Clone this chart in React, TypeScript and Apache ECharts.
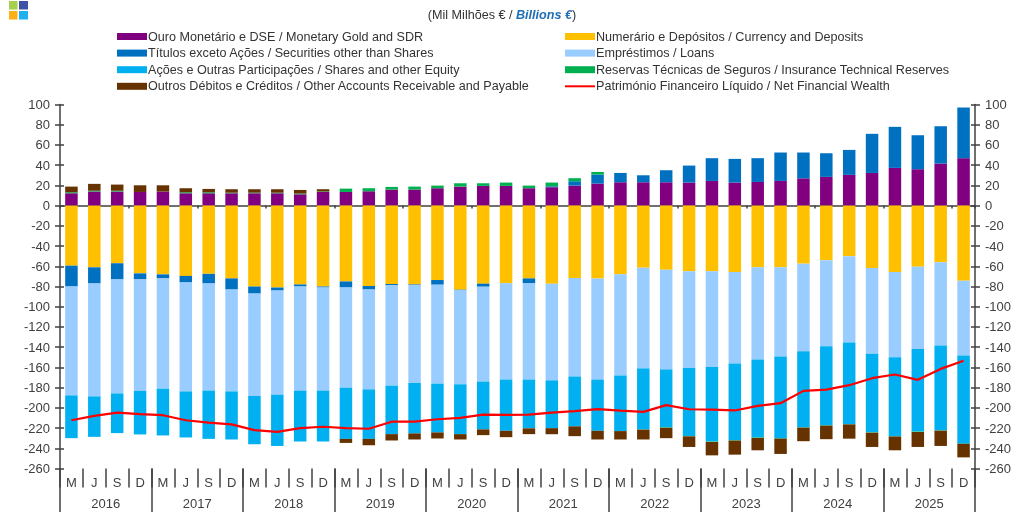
import React, { useEffect, useRef } from "react";
import * as echarts from "echarts";

const quarters = ["M", "J", "S", "D"];
const years = ["2016", "2017", "2018", "2019", "2020", "2021", "2022", "2023", "2024", "2025"];
const categories = years.flatMap((y) => quarters.map((q) => `${q} ${y}`));
const monthLabels = years.flatMap(() => quarters);

const gold = [12.2, 13.9, 13.9, 13.5, 13.9, 12.2, 12.2, 12.2, 12.2, 12.2, 11.2, 13.5, 13.5, 14.2, 15.8, 15.8, 17.2, 18.8, 19.5, 19.5, 17.2, 18.2, 19.8, 21.8, 23.1, 23.1, 23.1, 22.8, 24.4, 22.8, 23.4, 24.4, 27, 28.4, 30.4, 32.3, 37.3, 36, 41.6, 46.9];
const currency = [-59.4, -61, -57, -67, -68, -69.5, -67.5, -72, -80, -81, -78, -80, -75, -79.5, -77.5, -78, -73.6, -83.2, -77.2, -76.6, -72, -77.2, -71.6, -72.2, -68, -61.4, -63.4, -65, -65, -65.7, -61, -61, -57.4, -54, -50, -61.7, -65.7, -60.4, -56, -74.3];
const securities = [-20.6, -16, -16, -6, -4, -6.5, -9.5, -11, -7, -3, -2, -1, -6, -3.5, -1.4, -0.5, -4.6, -0.3, -3, -0.2, -4.6, 0.9, 4.3, 8.9, 9.2, 6.9, 11.9, 16.8, 22.5, 23.4, 23.5, 28.1, 25.5, 23.4, 24.7, 38.7, 40.6, 33.6, 36.9, 50.1];
const loans = [-107.7, -111.7, -112.7, -110.3, -109, -107.7, -106, -100.7, -101.3, -103, -103, -102, -99, -98.7, -99.1, -96.8, -97.8, -93.2, -93.8, -95.2, -95.4, -95.6, -97.4, -99.8, -100, -99.6, -98.6, -95.5, -94.5, -90.5, -91.2, -88.2, -86.6, -85, -85.4, -84.9, -84.3, -81.3, -82.4, -74];
const shares = [-42.3, -40, -39.3, -43, -46.3, -45.6, -47.7, -47.6, -47.7, -50.7, -50.3, -50.3, -50.7, -49, -48, -50, -48.3, -49.3, -47.3, -50.7, -48.3, -47.3, -49.3, -50.7, -55, -60.3, -57.3, -67.3, -73.9, -75.8, -77.2, -80.8, -75.2, -78.2, -80.6, -77.6, -78, -81.8, -83.8, -87.1];
const insurance = [1, 0.8, 0.8, 0, 0, 1, 1, 0.6, 0.6, 0.6, 0.7, 0.5, 3.3, 3, 2.7, 3, 2.6, 3.3, 2.6, 3.3, 2.6, 3.7, 3, 2.6, 0, -0.3, -0.4, -0.4, -0.4, -0.4, -0.4, -0.4, -0.4, -0.4, -0.4, -0.4, -0.4, -0.4, -0.4, -0.2];
const others = [5.6, 6.8, 6.1, 6.6, 6.2, 4, 3.3, 3.4, 3.4, 3.4, 3.6, 2.2, -4, -6.3, -6.3, -6, -6, -5.3, -5.7, -6.3, -5.7, -6, -9.7, -8.6, -8.3, -9.7, -10.3, -10.5, -13.2, -13.9, -12.2, -15.2, -13.4, -13.4, -14.1, -14.1, -13.6, -14.8, -15.1, -13.4];
const netWealth = [-212.3, -208, -204.7, -206.3, -207.3, -212.3, -214.7, -216.3, -222, -223.7, -220, -218.7, -220, -220.7, -213.7, -213.7, -211.3, -210, -206.7, -207, -206.7, -204.7, -203.3, -201.3, -202.7, -204, -197.3, -201.4, -201.7, -202.6, -198, -195.4, -183.2, -182, -177.6, -170.7, -167, -172.3, -161.5, -153.5];

const names = {
  gold: "Ouro Monetário e DSE / Monetary Gold and SDR",
  currency: "Numerário e Depósitos / Currency and Deposits",
  securities: "Títulos exceto Ações / Securities other than Shares",
  loans: "Empréstimos / Loans",
  shares: "Ações e Outras Participações / Shares and other Equity",
  insurance: "Reservas Técnicas de Seguros / Insurance Technical Reserves",
  others: "Outros Débitos e Créditos / Other Accounts Receivable and Payable",
  net: "Património Financeiro Líquido / Net Financial Wealth",
};

const barSeries: [string, number[], string][] = [
  [names.gold, gold, "#800080"],
  [names.currency, currency, "#ffc000"],
  [names.securities, securities, "#0070c0"],
  [names.loans, loans, "#99ccff"],
  [names.shares, shares, "#00b0f0"],
  [names.insurance, insurance, "#00b050"],
  [names.others, others, "#663300"],
];

const FONT = "'Liberation Sans', Arial, sans-serif";
const INK = "#404040";

export default function App() {
  const ref = useRef<HTMLDivElement>(null);
  useEffect(() => {
    document.body.style.margin = "0";
    const chart = echarts.init(ref.current!, undefined, { renderer: "svg" });
    const legendBase = {
      orient: "vertical" as const,
      itemWidth: 30,
      itemHeight: 7,
      itemGap: 3.6,
      selectedMode: false,
      textStyle: { fontFamily: FONT, fontSize: 12.6, color: "#333", padding: [0, 0, 0, -4] },
    };
    const yBase = { min: -260, max: 100, interval: 20, splitLine: { show: false } };
    const axisLineDark = { show: true, lineStyle: { color: INK, width: 1.5 } };
    const yLabel = { fontFamily: FONT, fontSize: 13, color: INK, margin: 10 };
    const hiddenCat = { type: "category" as const, gridIndex: 0, position: "bottom" as const };
    const rectItem = (name: string) => ({ name, icon: "rect" });
    chart.setOption({
      animation: false,
      backgroundColor: "#fff",
      title: {
        text: "{a|(Mil Milhões € / }{b|Billions €}{a|)}",
        left: 497,
        top: 3,
        textAlign: "center",
        textStyle: {
          fontWeight: "normal",
          rich: {
            a: { fontFamily: FONT, fontSize: 12.6, color: "#333", fontWeight: "normal" },
            b: { fontFamily: FONT, fontSize: 12.6, color: "#1f6fb5", fontStyle: "italic", fontWeight: "bold" },
          },
        },
      },
      legend: [
        { ...legendBase, left: 112, top: 25, data: [names.gold, names.securities, names.shares, names.others].map(rectItem) },
        {
          ...legendBase,
          left: 559,
          top: 25,
          data: [
            rectItem(names.currency),
            rectItem(names.loans),
            rectItem(names.insurance),
            { name: names.net, itemStyle: { opacity: 0 } },
          ],
        },
      ],
      grid: { left: 60, right: 41, top: 104.5, bottom: 43.5, containLabel: false },
      xAxis: [
        {
          ...hiddenCat,
          data: categories,
          axisLine: { show: true, onZero: true, lineStyle: { color: INK, width: 1.5 } },
          axisTick: { show: true, length: 3, lineStyle: { color: INK, width: 1.5 } },
          axisLabel: { show: false },
        },
        {
          ...hiddenCat,
          data: monthLabels,
          axisLine: { show: false, onZero: false },
          axisTick: { show: true, length: 19, lineStyle: { color: INK, width: 1.5 } },
          axisLabel: { show: true, interval: 0, fontFamily: FONT, fontSize: 13, color: INK, margin: 7 },
        },
        {
          ...hiddenCat,
          data: years,
          axisLine: { show: false, onZero: false },
          axisTick: { show: true, length: 44, lineStyle: { color: INK, width: 1.5 } },
          axisLabel: { show: true, interval: 0, fontFamily: FONT, fontSize: 13, color: INK, margin: 28 },
        },
      ],
      yAxis: [
        { ...yBase, type: "value", position: "left", axisLine: axisLineDark, axisTick: { show: true, length: 5, lineStyle: { color: INK, width: 1.5 } }, axisLabel: yLabel },
        { ...yBase, type: "value", position: "right", axisLine: axisLineDark, axisTick: { show: true, length: 5, lineStyle: { color: INK, width: 1.5 } }, axisLabel: yLabel },
        { ...yBase, type: "value", position: "left", axisLine: { show: false }, axisTick: { show: true, inside: true, length: 4, lineStyle: { color: INK, width: 1.5 } }, axisLabel: { show: false } },
        { ...yBase, type: "value", position: "right", axisLine: { show: false }, axisTick: { show: true, inside: true, length: 4, lineStyle: { color: INK, width: 1.5 } }, axisLabel: { show: false } },
      ],
      series: [
        ...barSeries.map(([name, data, color]) => ({
          name,
          type: "bar",
          stack: "total",
          data,
          barWidth: 12.5,
          itemStyle: { color },
          xAxisIndex: 0,
          yAxisIndex: 0,
        })),
        {
          name: names.net,
          type: "line",
          data: netWealth,
          symbol: "none",
          z: 5,
          lineStyle: { color: "#ff0000", width: 2.2 },
          itemStyle: { color: "#ff0000" },
          xAxisIndex: 0,
          yAxisIndex: 0,
        },
      ],
      graphic: [
        { type: "rect", shape: { x: 9, y: 1, width: 8.5, height: 8.5 }, style: { fill: "#a5cf4c" } },
        { type: "rect", shape: { x: 19, y: 1, width: 9, height: 8.5 }, style: { fill: "#3f52a3" } },
        { type: "rect", shape: { x: 9, y: 11, width: 8.5, height: 8.5 }, style: { fill: "#fbb116" } },
        { type: "rect", shape: { x: 19, y: 11, width: 9, height: 8.5 }, style: { fill: "#1fb0ee" } },
      ],
    });
    return () => chart.dispose();
  }, []);
  return <div ref={ref} style={{ width: 1016, height: 512, filter: "blur(0.5px)" }} />;
}
